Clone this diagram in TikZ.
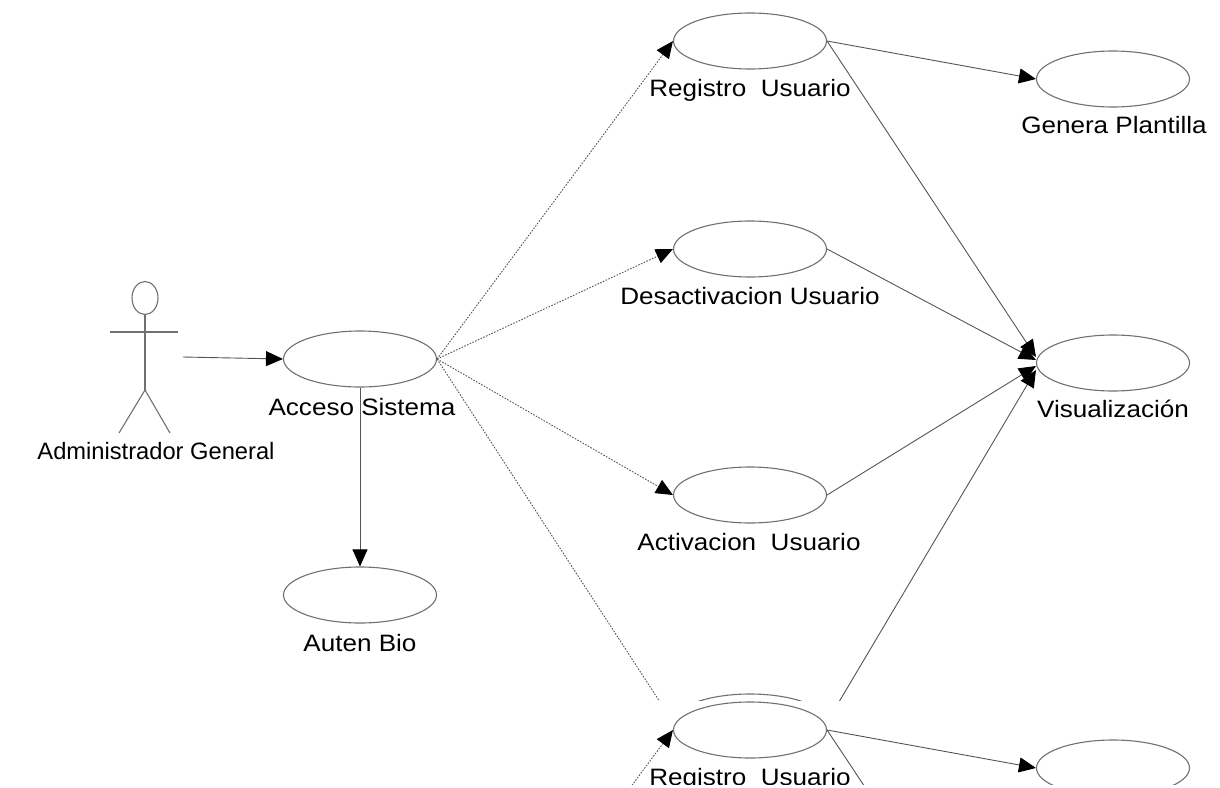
\documentclass[tikz,border=0pt]{standalone}
\usepackage{fontspec}
\setmainfont{Liberation Sans}[FakeStretch=1.1]
\newfontfamily\actorfont{Liberation Sans}
\usetikzlibrary{arrows.meta,shapes.geometric}

\definecolor{ellgray}{HTML}{707070}
\definecolor{linegray}{HTML}{555555}

\begin{document}
\begin{tikzpicture}[x=1pt,y=-1pt,
  usecase/.style={draw=ellgray, line width=1.1pt, ellipse, inner sep=0pt,
    minimum width=153pt, minimum height=56pt},
  lbl/.style={anchor=base, inner sep=0pt, font=\fontsize{23.7}{28}\selectfont},
  assoc/.style={draw=linegray, line width=0.9pt},
  incl/.style={draw=linegray, line width=0.9pt, dash pattern=on 1.6pt off 1.4pt},
  tip/.style={-{Triangle[length=17pt,width=15pt,color=black,fill=black]}},
  figure/.style={draw=ellgray, line width=1.1pt}]

\useasboundingbox (0,0) rectangle (1220,787);

% actor
\node[figure, ellipse, inner sep=0pt, minimum width=26pt, minimum height=33pt] (head) at (145,298) {};
\draw[figure] (head.south) -- (145,390) coordinate (hip);
\draw[figure] (110,332) -- (178,332);
\draw[figure] (hip) -- (119,433);
\draw[figure] (hip) -- (170,433);
\node[lbl, font=\actorfont\fontsize{23.7}{28}\selectfont] (actor-l) at (156,459) {Administrador General};
\coordinate (actor-r) at (183,357);

% use cases
\node[usecase] (acc) at (360,359) {};
\node[lbl] (acc-l) at (362,415) {Acceso Sistema};
\node[usecase] (aut) at (360,595) {};
\node[lbl] (aut-l) at (360,651) {Auten Bio};
\node[usecase] (reg) at (750,41) {};
\node[lbl] (reg-l) at (750,96) {Registro\ \ Usuario};
\node[usecase] (gen) at (1113,79) {};
\node[lbl] (gen-l) at (1114,133) {Genera Plantilla};
\node[usecase] (des) at (750,249) {};
\node[lbl] (des-l) at (750,304) {Desactivacion Usuario};
\node[usecase] (act) at (750,495) {};
\node[lbl] (act-l) at (749,550) {Activacion\ \ Usuario};
\node[usecase] (vis) at (1113,363) {};
\node[lbl] (vis-l) at (1113,417) {Visualización};

% connectors
\draw[assoc, tip] (actor-r) -- (acc.west);
\draw[assoc, tip] (acc.south) -- (aut.north);
\draw[incl, tip] (acc.east) -- (reg.west);
\draw[incl, tip] (acc.east) -- (des.west);
\draw[incl, tip] (acc.east) -- (act.west);
\draw[assoc, tip] (reg.east) -- (gen.west);
\draw[assoc, tip] (reg.east) -- ([yshift=6pt]vis.west);
\draw[assoc, tip] (des.east) -- ([yshift=3pt]vis.west);
\draw[assoc, tip] (act.east) -- ([yshift=-3pt]vis.west);

% lower use case, cut off at the sheet edge
\begin{scope}
  \clip (0,0) rectangle (1220,700);
  \node[usecase] (low) at (750,722) {};
  \draw[incl, tip] (acc.east) -- (low.west);
  \draw[assoc, tip] (low.east) -- ([yshift=-7pt]vis.west);
\end{scope}

% continuation sheet
\begin{scope}
  \clip (0,700.5) rectangle (1220,784);
  \begin{scope}[shift={(0,689)}]
    \node[usecase] (reg2) at (750,41) {};
    \node[lbl] (reg2-l) at (750,96) {Registro\ \ Usuario};
    \node[usecase] (gen2) at (1113,79) {};
    \coordinate (acc2) at (437,359);
    \coordinate (vis2) at (1037,357);
    \draw[incl, tip] (acc2) -- (reg2.west);
    \draw[assoc, tip] (reg2.east) -- (gen2.west);
    \draw[assoc] (reg2.east) -- (vis2);
  \end{scope}
\end{scope}
\end{tikzpicture}
\end{document}
